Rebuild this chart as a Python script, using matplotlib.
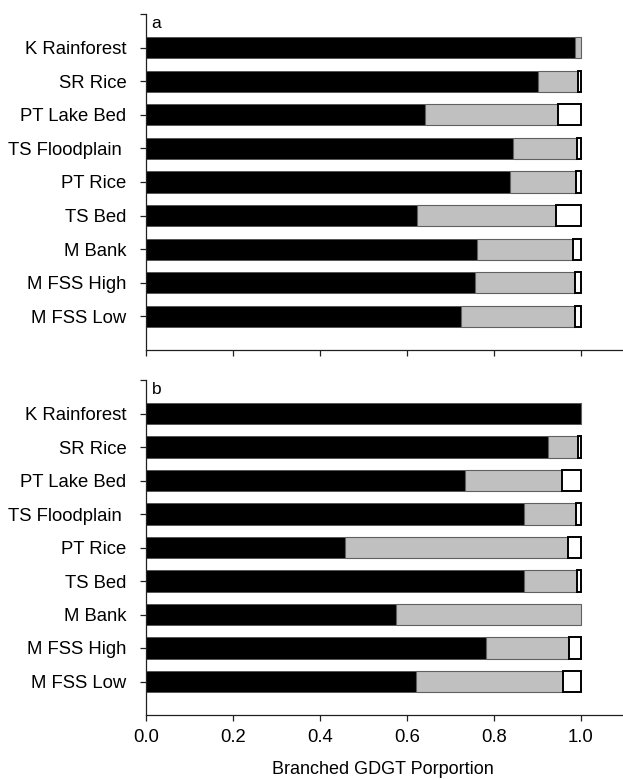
import matplotlib
matplotlib.use("Agg")
import matplotlib.pyplot as plt
import numpy as np

plt.rcParams['font.family'] = ['Liberation Sans', 'DejaVu Sans']

sites = ["K Rainforest", "SR Rice", "PT Lake Bed", "TS Floodplain ", "PT Rice",
         "TS Bed", "M Bank", "M FSS High", "M FSS Low"]

# Panel a: proportions of the three fractions
a_black = [0.988, 0.903, 0.643, 0.844, 0.838, 0.623, 0.761, 0.756, 0.724]
a_gray = [0.012, 0.092, 0.304, 0.148, 0.151, 0.320, 0.221, 0.231, 0.264]
a_white = [0.000, 0.005, 0.053, 0.008, 0.011, 0.057, 0.018, 0.013, 0.012]

# Panel b
b_black = [1.000, 0.926, 0.735, 0.870, 0.457, 0.870, 0.575, 0.782, 0.622]
b_gray = [0.000, 0.069, 0.222, 0.120, 0.514, 0.121, 0.425, 0.191, 0.337]
b_white = [0.000, 0.005, 0.043, 0.010, 0.029, 0.009, 0.000, 0.027, 0.041]

xticks = [0.0, 0.2, 0.4, 0.6, 0.8, 1.0]

fig = plt.figure(figsize=(6.23, 7.80), dpi=100)
W, H = 623, 780
ax_a = fig.add_axes([146 / W, 1 - 350 / H, (624 - 146) / W, (350 - 14) / H])
ax_b = fig.add_axes([146 / W, 1 - 715 / H, (624 - 146) / W, (715 - 380) / H])


def draw(ax, black, gray, white, label, show_xlabels):
    y = np.arange(len(sites))
    h = 0.63
    black = np.array(black)
    gray = np.array(gray)
    white = np.array(white)
    ax.barh(y, black, height=h, color='black', edgecolor='#505050', linewidth=0.6)
    ax.barh(y, gray, left=black, height=h, color='#c0c0c0', edgecolor='#606060', linewidth=0.8)
    mask = white > 0
    ax.barh(y[mask], white[mask], left=(black + gray)[mask], height=h,
            color='white', edgecolor='black', linewidth=1.4)
    ax.set_ylim(len(sites), -1)
    ax.set_xlim(0, 1.1)
    ax.set_yticks(y)
    ax.set_yticks([-1], minor=True)
    ax.set_yticklabels(sites, fontsize=13.3)
    ax.set_xticks(xticks)
    if show_xlabels:
        ax.set_xticklabels([f"{v:.1f}" for v in xticks], fontsize=13.3)
    else:
        ax.set_xticklabels([])
    ax.spines['top'].set_visible(False)
    ax.spines['right'].set_visible(False)
    for s in ('left', 'bottom'):
        ax.spines[s].set_linewidth(0.9)
        ax.spines[s].set_color('#202020')
    ax.tick_params(axis='both', which='both', direction='out', length=4,
                   width=0.9, color='#202020')
    ax.tick_params(axis='y', pad=10)
    ax.tick_params(axis='x', pad=6)
    ax.text(0.012, 0.995, label, transform=ax.transAxes, fontsize=12.5,
            ha='left', va='top')


draw(ax_a, a_black, a_gray, a_white, 'a', False)
draw(ax_b, b_black, b_gray, b_white, 'b', True)
fig.text(383 / W, 1 - 769 / H, "Branched GDGT Porportion", fontsize=13,
         ha='center', va='center')

fig.savefig("out.png", dpi=100)
